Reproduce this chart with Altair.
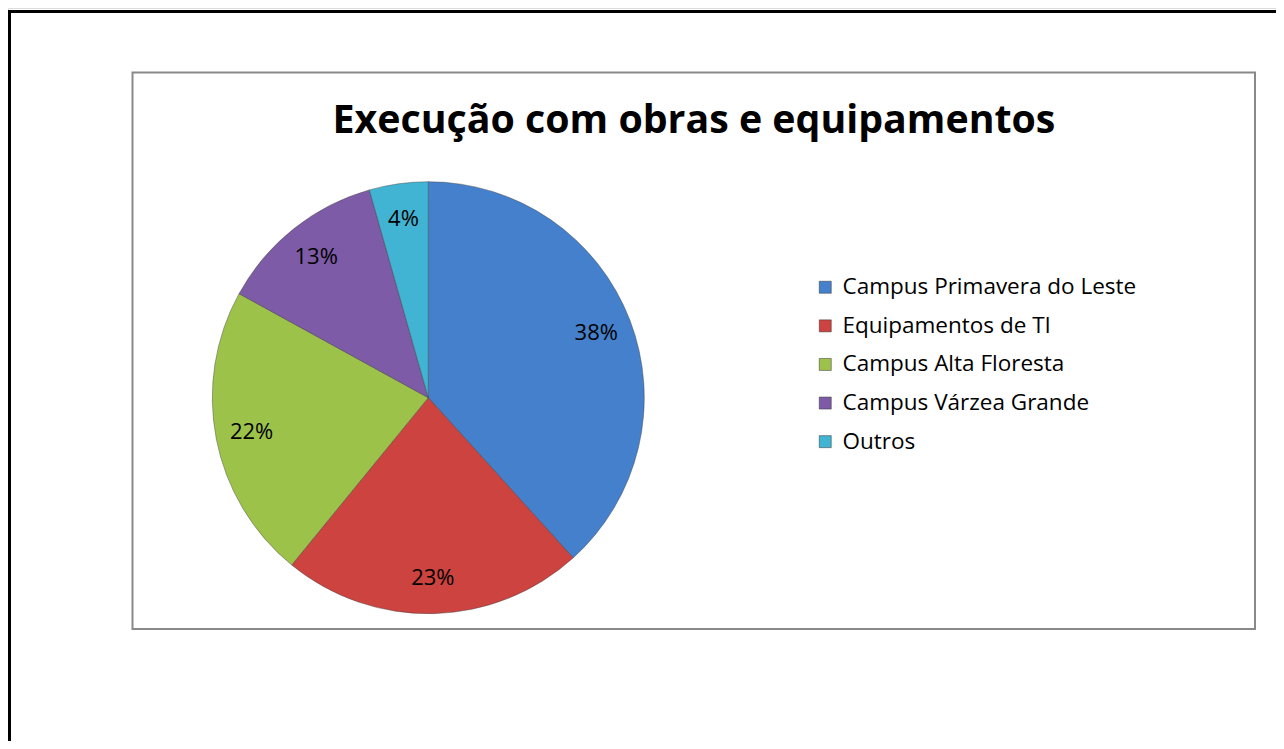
import altair as alt
import pandas as pd

categories = ["Campus Primavera do Leste", "Equipamentos de TI", "Campus Alta Floresta",
              "Campus Várzea Grande", "Outros"]
values = [38.3, 22.6, 22.1, 12.6, 4.4]
colors = ["#4480CC", "#CC4340", "#9DC24A", "#7D5BA6", "#40B4D2"]
title_text = "Execução com obras e equipamentos"

df = pd.DataFrame({"categoria": categories, "valor": values, "idx": list(range(len(categories)))})

W, H = 1268, 733
CX, CY, R = 420.3, 389.7, 216

base = alt.Chart(df).encode(
    theta=alt.Theta("valor:Q", stack=True),
    order=alt.Order("idx:Q"),
    x=alt.value(CX),
    y=alt.value(CY),
)

color_scale = alt.Scale(domain=categories, range=colors)

arcs = base.mark_arc(radius=R, stroke="#3a3a3a", strokeWidth=0.6, strokeOpacity=0.7).encode(
    color=alt.Color("categoria:N", scale=color_scale, sort=categories,
                    legend=alt.Legend(title=None, orient="none", legendX=806, legendY=268,
                                      symbolType="square", symbolSize=144,
                                      symbolStrokeWidth=0.5, symbolStrokeColor="#333",
                                      labelFont="Open Sans", labelFontSize=22.5,
                                      labelColor="#000000", labelLimit=400,
                                      rowPadding=15.6, labelOffset=6))
)

labels = base.transform_calculate(
    rotulo="format(datum.valor / 100, '.0%')"
).mark_text(radius=180, font="Open Sans", fontSize=22, color="#000000").encode(
    text="rotulo:N"
)

one = alt.Data(values=[{"a": 1}])
outer_top = alt.Chart(one).mark_rule(stroke="#000000", strokeWidth=3).encode(
    x=alt.value(0), x2=alt.value(W), y=alt.value(3.5)
)
outer_left = alt.Chart(one).mark_rule(stroke="#000000", strokeWidth=3).encode(
    x=alt.value(1.5), y=alt.value(2), y2=alt.value(H)
)
inner = alt.Chart(one).mark_rect(fillOpacity=0, stroke="#898989", strokeWidth=2).encode(
    x=alt.value(124.5), x2=alt.value(1247), y=alt.value(64.5), y2=alt.value(621)
)
title = alt.Chart(one).mark_text(font="Open Sans", fontWeight="bold", fontSize=39.3,
                                 align="center", baseline="alphabetic", color="#000000").encode(
    x=alt.value(686), y=alt.value(125), text=alt.value(title_text)
)

chart = alt.layer(outer_top, outer_left, inner, title, arcs, labels).properties(
    width=W, height=H, padding=0, autosize=alt.AutoSizeParams(type="none")
).configure_view(strokeWidth=0).configure(background="#ffffff")

chart.save("out.html", embed_options={"renderer": "svg", "actions": False})
